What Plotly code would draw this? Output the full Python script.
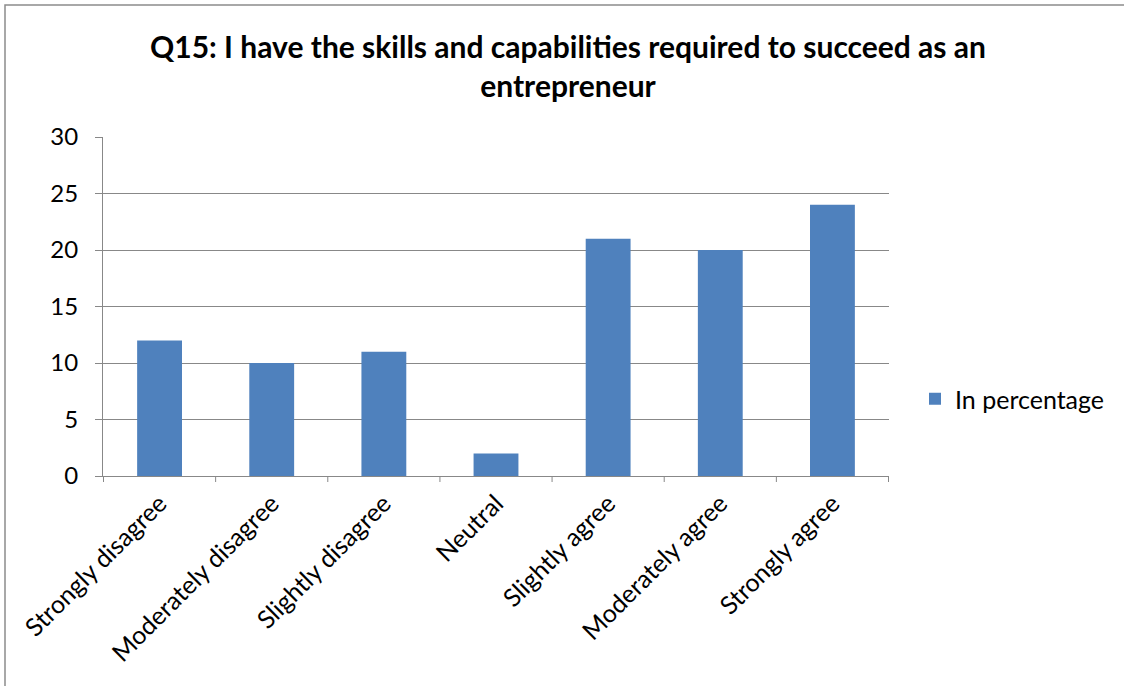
import plotly.graph_objects as go

categories = ["Strongly disagree", "Moderately disagree", "Slightly disagree", "Neutral",
              "Slightly agree", "Moderately agree", "Strongly agree"]
values = [12, 10, 11, 2, 21, 20, 24]
y_ticks = [0, 5, 10, 15, 20, 25, 30]
series_name = "In percentage"
title_text = "Q15: I have the skills and capabilities required to succeed as an<br>entrepreneur"

FONT = "Lato, Open Sans, sans-serif"
GRID = "#888888"

W, H = 1124, 686
ML, MR, MT, MB = 103, 235, 137, 210
PW, PH = W - ML - MR, H - MT - MB

fig = go.Figure()
fig.add_trace(go.Bar(
    x=categories, y=values, name=series_name,
    marker=dict(color="#4F81BD", line=dict(width=0)),
    width=0.4, showlegend=True,
))

fig.update_layout(
    width=W, height=H,
    margin=dict(l=ML, r=MR, t=MT, b=MB),
    paper_bgcolor="white", plot_bgcolor="white",
    font=dict(family=FONT, size=24, color="black"),
    title=dict(text=f"<b>{title_text}</b>", x=568 / W, xanchor="center",
               y=1 - 58 / H, yanchor="middle",
               font=dict(family=FONT, size=30, color="black")),
    showlegend=True,
    legend=dict(x=(915 - ML) / PW, xanchor="left",
                y=1 - (399 - MT) / PH, yanchor="middle",
                font=dict(family=FONT, size=25), itemwidth=30,
                bgcolor="rgba(0,0,0,0)"),
    shapes=[dict(type="rect", xref="paper", yref="paper",
                 x0=-(ML - 5) / PW, x1=(W - ML + 20) / PW,
                 y0=-(MB + 20) / PH, y1=1 + (MT - 5) / PH,
                 line=dict(color="#8c8c8c", width=1.5), layer="below")],
)

fig.update_xaxes(
    showline=True, linecolor=GRID, linewidth=1,
    tickangle=-45, ticks="", showgrid=False,
    ticklabelstandoff=2,
    tickfont=dict(family=FONT, size=25),
)
for i in range(len(categories) + 1):
    fig.add_shape(type="line", xref="x", yref="paper",
                  x0=i - 0.5, x1=i - 0.5, y0=0, y1=-6 / PH,
                  line=dict(color=GRID, width=1))

fig.update_yaxes(
    range=[0, 30], tickvals=y_ticks, showgrid=True, gridcolor=GRID, gridwidth=1,
    showline=True, linecolor=GRID, linewidth=1,
    ticks="outside", ticklen=7, tickcolor=GRID, zeroline=False,
    ticklabelstandoff=12,
    tickfont=dict(family=FONT, size=24),
)

fig.write_html("out.html")
